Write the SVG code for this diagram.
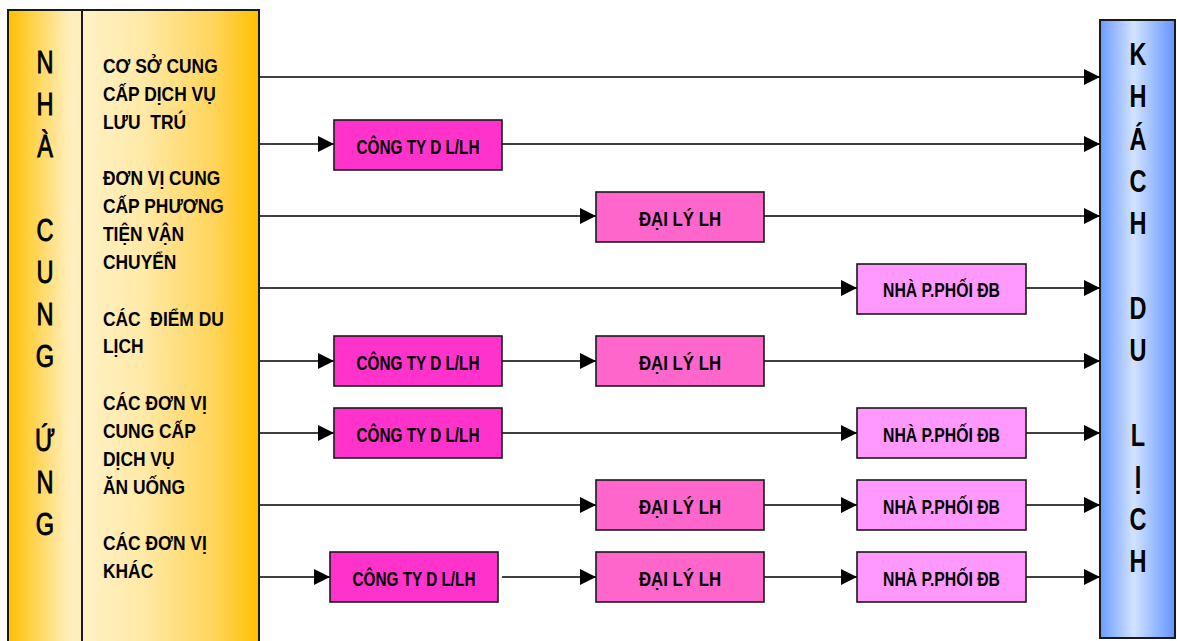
<svg xmlns="http://www.w3.org/2000/svg" width="1177" height="641" viewBox="0 0 1177 641">
  <style>
    .frame { stroke: #1a1a1a; stroke-width: 2; }
    .box { stroke: #1a1a1a; stroke-width: 1.6; }
    .cty { fill: #ff33cc; }
    .dl { fill: #ff66cc; }
    .npp { fill: #ff99ff; }
    .conn line { stroke: #000; stroke-width: 1.6; marker-end: url(#arrow); }
    .big { font-family: "Liberation Sans", Arial, sans-serif; font-size: 31px; fill: #000; text-anchor: middle; }
    .bigl { stroke: #000; stroke-width: 0.9; }
    .bigb { font-weight: bold; }
    .lbl { font-family: "Liberation Sans", Arial, sans-serif; font-size: 20px; font-weight: bold; fill: #000; white-space: pre; }
    .bt { font-family: "Liberation Sans", Arial, sans-serif; font-size: 20.5px; font-weight: bold; fill: #000; text-anchor: middle; }
  </style>
  <defs>
    <linearGradient id="gLeft" x1="0" y1="0" x2="1" y2="0">
      <stop offset="0" stop-color="#ffc000"/>
      <stop offset="0.85" stop-color="#fff0c2"/>
      <stop offset="1" stop-color="#ffeeb8"/>
    </linearGradient>
    <linearGradient id="gMid" x1="0" y1="0" x2="1" y2="0">
      <stop offset="0" stop-color="#fff2c6"/>
      <stop offset="0.35" stop-color="#ffe9a6"/>
      <stop offset="0.75" stop-color="#ffd45a"/>
      <stop offset="1" stop-color="#ffc000"/>
    </linearGradient>
    <linearGradient id="gRight" x1="0" y1="0" x2="1" y2="0">
      <stop offset="0" stop-color="#6c9bff"/>
      <stop offset="0.45" stop-color="#d2e3ff"/>
      <stop offset="1" stop-color="#6294ff"/>
    </linearGradient>
    <marker id="arrow" markerUnits="userSpaceOnUse" markerWidth="16" markerHeight="16" refX="16" refY="8" orient="auto">
      <path d="M0,0 L16,8 L0,16 Z" fill="#000"/>
    </marker>
  </defs>

  <!-- supplier column -->
  <g id="supplier">
    <rect x="8" y="10" width="74" height="660" fill="url(#gLeft)"/>
    <rect x="82" y="10" width="177" height="660" fill="url(#gMid)"/>
    <rect x="8" y="10" width="251" height="660" fill="none" class="frame"/>
    <line x1="82" y1="10" x2="82" y2="641" class="frame"/>
    <g transform="translate(45,0) scale(0.76,1)" class="big bigl">
      <text x="0" y="73">N</text>
      <text x="0" y="115">H</text>
      <text x="0" y="157">À</text>
      <text x="0" y="241">C</text>
      <text x="0" y="283">U</text>
      <text x="0" y="325">N</text>
      <text x="0" y="367">G</text>
      <text x="0" y="451">Ứ</text>
      <text x="0" y="493">N</text>
      <text x="0" y="535">G</text>
    </g>
    <g transform="translate(103,0) scale(0.87,1)" class="lbl">
      <text x="0" y="73">CƠ SỞ CUNG</text>
      <text x="0" y="101">CẤP DỊCH VỤ</text>
      <text x="0" y="129" xml:space="preserve">LƯU  TRÚ</text>
      <text x="0" y="185">ĐƠN VỊ CUNG</text>
      <text x="0" y="213">CẤP PHƯƠNG</text>
      <text x="0" y="241">TIỆN VẬN</text>
      <text x="0" y="269">CHUYỂN</text>
      <text x="0" y="326" xml:space="preserve">CÁC  ĐIỂM DU</text>
      <text x="0" y="353">LỊCH</text>
      <text x="0" y="410">CÁC ĐƠN VỊ</text>
      <text x="0" y="438">CUNG CẤP</text>
      <text x="0" y="466">DỊCH VỤ</text>
      <text x="0" y="494">ĂN UỐNG</text>
      <text x="0" y="550">CÁC ĐƠN VỊ</text>
      <text x="0" y="578">KHÁC</text>
    </g>
  </g>

  <!-- customer column -->
  <g id="customer">
    <rect x="1100" y="20" width="75" height="618" fill="url(#gRight)" class="frame"/>
    <g transform="translate(1138,0) scale(0.76,1)" class="big bigb">
      <text x="0" y="65">K</text>
      <text x="0" y="107">H</text>
      <text x="0" y="150">Á</text>
      <text x="0" y="192">C</text>
      <text x="0" y="234">H</text>
      <text x="0" y="319">D</text>
      <text x="0" y="361">U</text>
      <text x="0" y="446">L</text>
      <text x="0" y="488">Ị</text>
      <text x="0" y="530">C</text>
      <text x="0" y="572">H</text>
    </g>
  </g>

  <!-- connectors -->
  <g id="connectors" class="conn">
    <line x1="260" y1="77" x2="1100" y2="77"/>

    <line x1="260" y1="144" x2="334" y2="144"/>
    <line x1="502" y1="144" x2="1100" y2="144"/>

    <line x1="260" y1="216" x2="596" y2="216"/>
    <line x1="764" y1="216" x2="1100" y2="216"/>

    <line x1="260" y1="288" x2="857" y2="288"/>
    <line x1="1026" y1="288" x2="1100" y2="288"/>

    <line x1="260" y1="361" x2="334" y2="361"/>
    <line x1="502" y1="361" x2="596" y2="361"/>
    <line x1="764" y1="361" x2="1100" y2="361"/>

    <line x1="260" y1="433" x2="334" y2="433"/>
    <line x1="502" y1="433" x2="857" y2="433"/>
    <line x1="1026" y1="433" x2="1100" y2="433"/>

    <line x1="260" y1="505" x2="596" y2="505"/>
    <line x1="764" y1="505" x2="857" y2="505"/>
    <line x1="1026" y1="505" x2="1100" y2="505"/>

    <line x1="260" y1="577" x2="330" y2="577"/>
    <line x1="502" y1="577" x2="596" y2="577"/>
    <line x1="764" y1="577" x2="857" y2="577"/>
    <line x1="1026" y1="577" x2="1100" y2="577"/>
  </g>

  <!-- intermediary nodes -->
  <g id="cty1"><rect x="334" y="120" width="168" height="50" class="box cty"/><text x="418" y="154" class="bt" textLength="123" lengthAdjust="spacingAndGlyphs">CÔNG TY D L/LH</text></g>
  <g id="dl1"><rect x="596" y="192" width="168" height="50" class="box dl"/><text x="680" y="226" class="bt" textLength="82" lengthAdjust="spacingAndGlyphs">ĐẠI LÝ LH</text></g>
  <g id="npp1"><rect x="857" y="264" width="169" height="50" class="box npp"/><text x="941.5" y="297" class="bt" textLength="117" lengthAdjust="spacingAndGlyphs">NHÀ P.PHỐI ĐB</text></g>

  <g id="cty2"><rect x="334" y="336" width="168" height="50" class="box cty"/><text x="418" y="370" class="bt" textLength="123" lengthAdjust="spacingAndGlyphs">CÔNG TY D L/LH</text></g>
  <g id="dl2"><rect x="596" y="336" width="168" height="50" class="box dl"/><text x="680" y="370" class="bt" textLength="82" lengthAdjust="spacingAndGlyphs">ĐẠI LÝ LH</text></g>

  <g id="cty3"><rect x="334" y="408" width="168" height="50" class="box cty"/><text x="418" y="442" class="bt" textLength="123" lengthAdjust="spacingAndGlyphs">CÔNG TY D L/LH</text></g>
  <g id="npp2"><rect x="857" y="408" width="169" height="50" class="box npp"/><text x="941.5" y="442" class="bt" textLength="117" lengthAdjust="spacingAndGlyphs">NHÀ P.PHỐI ĐB</text></g>

  <g id="dl3"><rect x="596" y="480" width="168" height="50" class="box dl"/><text x="680" y="514" class="bt" textLength="82" lengthAdjust="spacingAndGlyphs">ĐẠI LÝ LH</text></g>
  <g id="npp3"><rect x="857" y="480" width="169" height="50" class="box npp"/><text x="941.5" y="514" class="bt" textLength="117" lengthAdjust="spacingAndGlyphs">NHÀ P.PHỐI ĐB</text></g>

  <g id="cty4"><rect x="330" y="552" width="168" height="50" class="box cty"/><text x="414" y="586" class="bt" textLength="123" lengthAdjust="spacingAndGlyphs">CÔNG TY D L/LH</text></g>
  <g id="dl4"><rect x="596" y="552" width="168" height="50" class="box dl"/><text x="680" y="586" class="bt" textLength="82" lengthAdjust="spacingAndGlyphs">ĐẠI LÝ LH</text></g>
  <g id="npp4"><rect x="857" y="552" width="169" height="50" class="box npp"/><text x="941.5" y="586" class="bt" textLength="117" lengthAdjust="spacingAndGlyphs">NHÀ P.PHỐI ĐB</text></g>
</svg>
